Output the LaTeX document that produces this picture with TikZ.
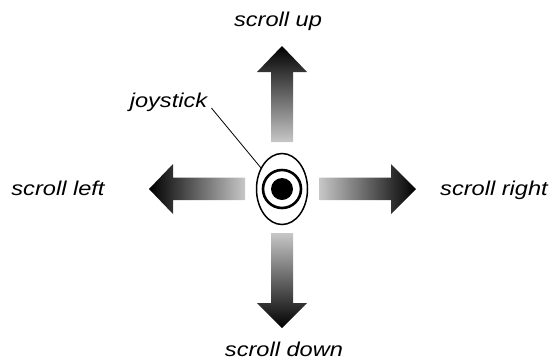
\documentclass[tikz,border=0pt]{standalone}
\usepackage{fontspec}
\setmainfont{Liberation Sans}
\usetikzlibrary{shapes.geometric}
\begin{document}
\begin{tikzpicture}[x=1pt, y=-1pt,
		lbl/.style={font=\fontsize{20}{24}\selectfont\itshape, xscale=1.18, inner sep=0pt, anchor=base},
		tailgray/.style={black!22}]
		\useasboundingbox (0,0) rectangle (552,360);
		% ---- joystick ----
		\node[ellipse, draw, line width=1.5pt, minimum width=51pt, minimum height=71pt,
			inner sep=0pt, outer sep=0pt] (stick) at (282,189) {};
		\draw[line width=2.6pt] (stick.center) circle [radius=19pt];
		\fill (stick.center) circle [radius=11pt];
		% ---- the four arrows, dark at the tip ----
		\shade[top color=black, bottom color=black!22]
			(271,142) -- (271,72) -- (257,72) -- (282,46) -- (307,72) -- (293,72) -- (293,142) -- cycle;
		\shade[top color=black!22, bottom color=black]
			(271,233) -- (271,303) -- (257,303) -- (282,328) -- (307,303) -- (293,303) -- (293,233) -- cycle;
		\shade[left color=black, right color=black!22]
			(245,177.5) -- (173,177.5) -- (173,164) -- (149,189) -- (173,214) -- (173,200) -- (245,200) -- cycle;
		\shade[left color=black!22, right color=black]
			(319,177.5) -- (391,177.5) -- (391,164) -- (416,189) -- (391,214) -- (391,200) -- (319,200) -- cycle;
		% ---- labels ----
		\node[lbl] (tUp) at (278,26) {scroll up};
		\node[lbl] (tDown) at (284,356.5) {scroll down};
		\node[lbl] (tLeft) at (58,195) {scroll left};
		\node[lbl] (tRight) at (494,195) {scroll right};
		\node[lbl] (jlabel) at (168.5,107) {joystick};
		\draw[line width=0.8pt] ([xshift=4pt,yshift=-1pt]jlabel.base east) -- (stick.135);
	\end{tikzpicture}
\end{document}
